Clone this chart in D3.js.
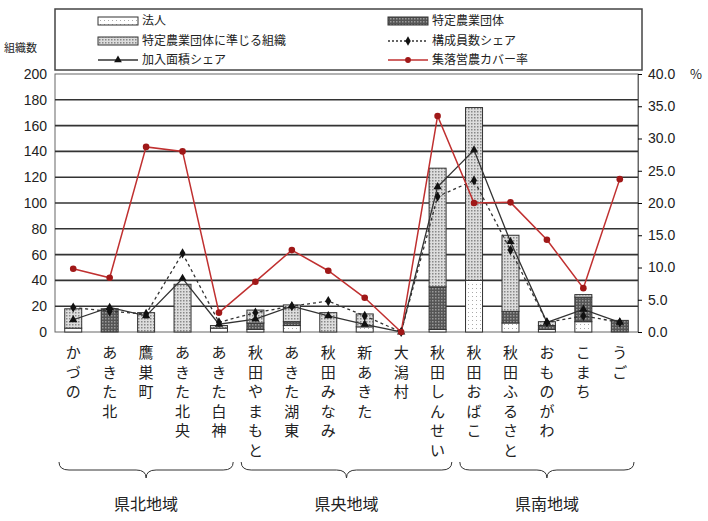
<!DOCTYPE html>
<html><head><meta charset="utf-8">
<script src="https://cdnjs.cloudflare.com/ajax/libs/d3/7.8.5/d3.min.js"></script>
<style>body{margin:0;background:#fff}text{font-family:"Noto Sans CJK JP",sans-serif;fill:#222}</style>
</head><body><svg id="c" width="708" height="521"></svg>
<script>
var cats = ["かづの","あきた北","鷹巣町","あきた北央","あきた白神","秋田やまもと","あきた湖東","秋田みなみ","新あきた","大潟村","秋田しんせい","秋田おばこ","秋田ふるさと","おものがわ","こまち","うご"];
var houjin  = [3,0,0,0,3,2,5,0,4,0,2,40,7,2,8,0];
var tokutei = [0,18,0,0,0,5,3,0,0,0,33,0,9,3,19,9];
var junjiru = [15,0,15,37,2,10,13,15,10,0,92,134,59,3,2,0];
var kouseiShare = [3.8,3.2,2.8,12.2,1.5,3.0,4.0,4.8,2.5,0,21,23.5,12.7,1.5,2.5,1.5];
var menseki = [1.9,3.8,2.5,8.3,1.2,2.0,4.0,2.5,1.2,0,22.5,28.2,14,1.5,3.5,1.5];
var cover = [9.8,8.4,28.7,28.0,3.0,7.8,12.7,9.5,5.3,0,33.5,20,20.1,14.3,6.8,23.7];
var leftTicks = [0,20,40,60,80,100,120,140,160,180,200];
var rightTicks = [0,5,10,15,20,25,30,35,40];
var regions = [["県北地域",0,4],["県央地域",5,10],["県南地域",11,15]];

var svg = d3.select("#c");
var defs = svg.append("defs");
var p1 = defs.append("pattern").attr("id","pj").attr("width",3).attr("height",3).attr("patternUnits","userSpaceOnUse");
p1.append("rect").attr("width",3).attr("height",3).attr("fill","#ddd");
p1.append("rect").attr("width",1.5).attr("height",1.5).attr("fill","#888");
var p2 = defs.append("pattern").attr("id","pt").attr("width",3).attr("height",3).attr("patternUnits","userSpaceOnUse");
p2.append("rect").attr("width",3).attr("height",3).attr("fill","#555");
p2.append("rect").attr("width",1.5).attr("height",1.5).attr("fill","#999");
var p3 = defs.append("pattern").attr("id","ph").attr("width",4).attr("height",4).attr("patternUnits","userSpaceOnUse");
p3.append("rect").attr("width",4).attr("height",4).attr("fill","#fff");
p3.append("rect").attr("width",1).attr("height",1).attr("fill","#aaa");

var L = 55, R = 638, T = 74, B = 332;
var x = d3.scaleBand().domain(cats).range([L,R]);
var y = d3.scaleLinear().domain([0,200]).range([B,T]);
var y2 = d3.scaleLinear().domain([0,40]).range([B,T]);
var cx = function(i){ return x(cats[i]) + x.bandwidth()/2; };

svg.append("rect").attr("x",L).attr("y",T).attr("width",R-L).attr("height",B-T).attr("fill","#fff").attr("stroke","#666");
svg.selectAll(".g").data(leftTicks.slice(1,10)).enter().append("line")
  .attr("x1",L).attr("x2",R).attr("y1",d=>y(d)).attr("y2",d=>y(d)).attr("stroke","#333").attr("stroke-width",1.6);

svg.append("g").attr("transform","translate("+L+",0)").call(d3.axisLeft(y).tickValues(leftTicks).tickSize(0).tickPadding(8))
  .call(g=>g.select(".domain").remove()).selectAll("text").attr("font-size",14).style("font-family","Liberation Sans");
svg.append("g").attr("transform","translate("+R+",0)").call(d3.axisRight(y2).tickValues(rightTicks).tickSize(4).tickPadding(6).tickFormat(d3.format(".1f")))
  .call(g=>g.select(".domain").attr("stroke","#666")).selectAll("text").attr("font-size",14).style("font-family","Liberation Sans");
svg.append("text").attr("x",4).attr("y",52).attr("font-size",11).text("組織数");
svg.append("text").attr("x",690).attr("y",79).attr("font-size",13).text("%");

var bw = 17;
cats.forEach(function(c,i){
  var segs = [[houjin[i],"url(#ph)"],[tokutei[i],"url(#pt)"],[junjiru[i],"url(#pj)"]];
  var base = 0;
  segs.forEach(function(s){
    if(s[0]>0){
      svg.append("rect").attr("x",cx(i)-bw/2).attr("width",bw).attr("y",y(base+s[0])).attr("height",y(base)-y(base+s[0]))
        .attr("fill",s[1]).attr("stroke","#333").attr("stroke-width",1);
    }
    base += s[0];
  });
});

var line = d3.line().x((d,i)=>cx(i)).y(d=>y2(d));
svg.append("path").datum(kouseiShare).attr("d",line).attr("fill","none").attr("stroke","#333").attr("stroke-dasharray","3,3").attr("stroke-width",1.3);
svg.append("path").datum(menseki).attr("d",line).attr("fill","none").attr("stroke","#333").attr("stroke-width",1.3);
svg.append("path").datum(cover).attr("d",line).attr("fill","none").attr("stroke","#c03030").attr("stroke-width",1.5);
svg.selectAll(".dm").data(kouseiShare).enter().append("path").attr("transform",(d,i)=>"translate("+cx(i)+","+y2(d)+")")
  .attr("d",d3.symbol(d3.symbolDiamond,30)).attr("fill","#111");
svg.selectAll(".tr").data(menseki).enter().append("path").attr("transform",(d,i)=>"translate("+cx(i)+","+y2(d)+")")
  .attr("d",d3.symbol(d3.symbolTriangle,30)).attr("fill","#111");
svg.selectAll(".rc").data(cover).enter().append("circle").attr("cx",(d,i)=>cx(i)).attr("cy",d=>y2(d)).attr("r",3.3).attr("fill","#a01818");

// vertical category labels
cats.forEach(function(c,i){
  var t = svg.append("text").attr("font-size",15).attr("text-anchor","middle");
  Array.from(c).forEach(function(ch,k){
    t.append("tspan").attr("x",cx(i)).attr("y",358+k*19.5).text(ch);
  });
});

// region braces
regions.forEach(function(r){
  var x1 = x(cats[r[1]])+4, x2 = x(cats[r[2]])+x.bandwidth()-4, m=(x1+x2)/2, yt=462, yb=478;
  svg.append("path").attr("d","M"+x1+","+yt+" Q"+x1+","+(yt+8)+" "+(x1+10)+","+(yt+8)+" L"+(m-10)+","+(yt+8)+" Q"+m+","+(yt+8)+" "+m+","+yb+
    " Q"+m+","+(yt+8)+" "+(m+10)+","+(yt+8)+" L"+(x2-10)+","+(yt+8)+" Q"+x2+","+(yt+8)+" "+x2+","+yt)
    .attr("fill","none").attr("stroke","#333");
  svg.append("text").attr("x",m).attr("y",510).attr("text-anchor","middle").attr("font-size",16).text(r[0]);
});

// legend
svg.append("rect").attr("x",L).attr("y",9).attr("width",R-L+4).attr("height",61).attr("fill","#fff").attr("stroke","#444").attr("stroke-width",1.5);
var leg = [
  [98,21,"box","url(#ph)","法人"],[388,21,"box","url(#pt)","特定農業団体"],
  [98,41,"box","url(#pj)","特定農業団体に準じる組織"],[388,41,"dash",null,"構成員数シェア"],
  [98,60,"tri",null,"加入面積シェア"],[388,60,"red",null,"集落営農カバー率"]];
leg.forEach(function(l){
  var lx=l[0], ly=l[1];
  if(l[2]=="box"){ svg.append("rect").attr("x",lx).attr("y",ly-4).attr("width",40).attr("height",8).attr("fill",l[3]).attr("stroke","#333"); }
  else {
    var col = l[2]=="red" ? "#c03030" : "#333";
    svg.append("line").attr("x1",lx).attr("x2",lx+40).attr("y1",ly).attr("y2",ly).attr("stroke",col).attr("stroke-width",1.3).attr("stroke-dasharray",l[2]=="dash"?"2,2":null);
    var sym = l[2]=="tri" ? d3.symbolTriangle : l[2]=="dash" ? d3.symbolDiamond : d3.symbolCircle;
    svg.append("path").attr("transform","translate("+(lx+20)+","+ly+")").attr("d",d3.symbol(sym,26)).attr("fill",l[2]=="red"?"#a01818":"#111");
  }
  svg.append("text").attr("x",lx+44).attr("y",ly+4).attr("font-size",12).text(l[4]);
});
</script></body></html>
